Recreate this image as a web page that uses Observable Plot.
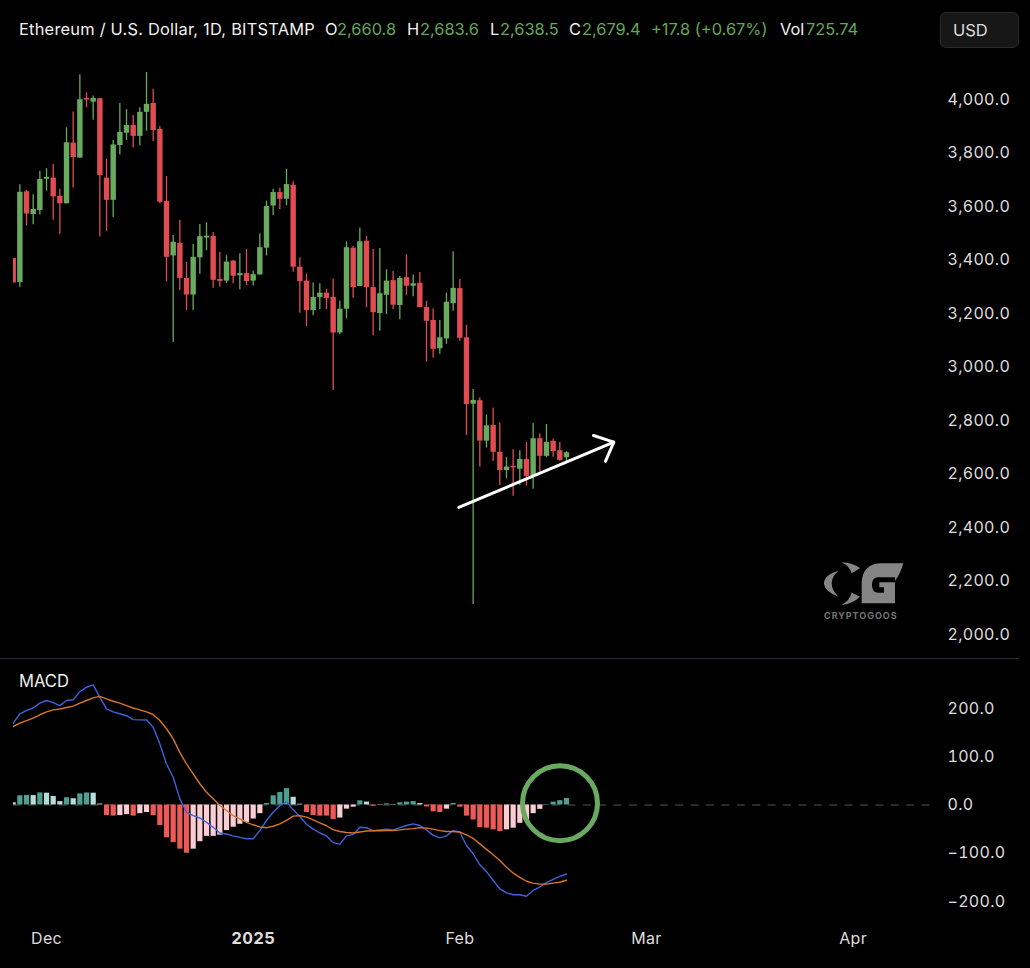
<!DOCTYPE html>
<html><head><meta charset="utf-8">
<script src="https://cdn.jsdelivr.net/npm/d3@7"></script>
<script src="https://cdn.jsdelivr.net/npm/@observablehq/plot@0.6"></script>
<style>
html,body{margin:0;padding:0;background:#000;width:1030px;height:968px;overflow:hidden}
#wrap{position:relative;width:1030px;height:968px;background:#000;font-family:Inter,"Liberation Sans",sans-serif}
#wrap>div,#wrap>svg{position:absolute}
.seg{top:19px;font-size:16.4px;line-height:20px;white-space:nowrap}
#usd{left:940px;top:12px;width:79px;height:36px;background:#171717;border:1px solid #2b2b2b;border-radius:6px;box-sizing:border-box;color:#dcdcdc;font-size:16.5px;line-height:35px;padding-left:12px}
#macdLabel{left:19px;top:671px;color:#f0f0f0;font-size:16.6px;line-height:20px}
#divider{left:0;top:658px;width:1018px;height:1px;background:#2a2d38}
</style></head><body>
<div id="wrap"></div>
<script>
const startDay = Date.UTC(2024, 10, 26);
const opens  = [3406,3316,3655,3570,3585,3702,3706,3638,3610,3837,3781,4004,3990,4003,3706,3623,3828,3874,3903,3862,3952,3985,3888,3619,3415,3462,3331,3269,3408,3482,3488,3327,3321,3396,3341,3349,3321,3344,3444,3602,3652,3627,3679,3373,3321,3211,3260,3276,3260,3127,3216,3444,3301,3470,3297,3200,3268,3323,3230,3334,3302,3313,3222,3174,3068,3105,3237,3293,3109,2861,2874,2723,2781,2681,2613,2629,2618,2654,2591,2732,2666,2722,2687,2660.8];
const highs  = [3406,3681,3660,3644,3732,3741,3757,3664,3894,3953,4092,4025,4013,4003,3777,3847,3985,3962,3940,3969,4101,4038,3899,3712,3492,3548,3391,3458,3533,3539,3503,3428,3416,3398,3423,3439,3358,3497,3620,3664,3668,3738,3692,3408,3348,3314,3311,3291,3328,3247,3468,3450,3520,3488,3439,3443,3363,3357,3338,3420,3344,3353,3245,3218,3174,3276,3431,3327,3155,2916,2885,2821,2847,2791,2661,2691,2687,2718,2789,2750,2785,2730,2718,2683.6];
const lows   = [3314,3297,3527,3532,3568,3658,3549,3496,3610,3669,3781,3969,3922,3486,3507,3559,3792,3847,3820,3827,3881,3843,3610,3319,3092,3286,3211,3211,3347,3435,3294,3299,3312,3311,3289,3304,3303,3344,3415,3566,3588,3603,3354,3201,3151,3192,3215,3215,2912,3121,3180,3257,3301,3222,3117,3134,3196,3215,3177,3268,3263,3222,3018,3033,3048,3085,3208,3096,2744,2112,2626,2697,2647,2557,2582,2517,2557,2555,2543,2607,2661,2663,2648,2638.5];
const closes = [3314,3653,3572,3589,3701,3709,3636,3610,3838,3783,3999,3998,4004,3715,3623,3830,3877,3903,3862,3952,3982,3884,3616,3410,3466,3331,3269,3410,3487,3489,3324,3320,3392,3339,3349,3319,3345,3446,3600,3652,3627,3682,3373,3319,3211,3260,3276,3256,3127,3216,3446,3297,3468,3297,3203,3274,3321,3231,3331,3302,3311,3222,3171,3066,3109,3242,3294,3107,2860,2875,2723,2780,2681,2613,2626,2623,2654,2591,2732,2666,2718,2684,2651,2679.4];

const histogram = [4.5,19,19.7,19.5,25,24.5,17.6,7,15,13,23,25,24.5,2,-22,-23,-22,-20,-23,-18,-15.5,-22,-42.5,-68,-78,-91.5,-100,-91.5,-76,-65,-65,-62.5,-53,-46,-40,-36,-29,-18,3,19,26,34,16,1.7,-15.5,-22,-23,-23,-30,-27,-8.6,-4.5,8.6,6,-2.4,1,2.4,1,4.5,6,7,3,-4,-14,-15.5,-8.6,3,-4.5,-23,-31,-47,-48,-51.5,-55,-51.5,-48,-38,-32,-18,-9,1,6,9,13.5];
const histTone  = "L T T L T L L L T L T T L L R R P P R P P R R R R R R P P P P P P P P P P P T T T T L L R R R R R P P P T L R L T L T T T L R R R P T R R R R R R R P P P P P P T T T T".split(" ");
const macdLine  = [169.5,189,196,201,211,216.5,212,206,216.5,218,235,244,249,223,199,193,189,185,177,176.4,176,161,126.7,85,57.6,12.7,-15,-22,-27,-36,-46,-58,-60,-64,-67,-70,-70,-53,-32,-15,-1,7,-10,-24,-40,-50,-58,-64,-78,-81,-64,-61,-46,-47,-53.5,-51.5,-50,-51.5,-47,-42.5,-39,-42.5,-51.5,-63,-68,-64,-53,-56,-84,-101,-124,-138,-156,-174,-182,-186,-186,-189,-177,-170,-161,-154,-148,-143];
const signalLine= [162.6,169.5,175,180,187,193,197,199,202,205,211,216.5,222,225,220,215,211,206,201,197,193,187.5,175,158,137,109,85,64.5,44,26.5,12.7,-1,-11.5,-22,-29,-36,-41,-45.5,-47,-44,-39,-32,-23,-22,-25,-31,-37,-43,-51,-55,-57,-58,-56,-54,-53.5,-53.5,-53,-53,-51.5,-50,-49,-47,-48,-50,-53,-55,-55,-56,-62,-69,-80.5,-92,-103,-115,-129,-141,-150,-158,-162,-164,-164,-162,-160,-156];

const priceTicks = [2000,2200,2400,2600,2800,3000,3200,3400,3600,3800,4000];
const macdTicks  = [-200,-100,0,100,200];
const monthTicks = [["Dec",Date.UTC(2024,11,1)],["Mar",Date.UTC(2025,2,1)],["Apr",Date.UTC(2025,3,1)],["Feb",Date.UTC(2025,1,1)]];
const yearTick   = Date.UTC(2025,0,1);

const arrowShaftDays = [66.85,90.1],  arrowShaftPrices = [2475,2719];
const arrowHeadDays  = [87.05,90.1,88.85], arrowHeadPrices = [2744,2719,2647];
const circleDay = 82.03, circleValue = 3.7;

const headerParts = [
  ["Ethereum / U.S. Dollar, 1D, BITSTAMP",19,"w"],["O",325,"w"],["2,660.8",337,"g"],["H",407,"w"],["2,683.6",420,"g"],
  ["L",490,"w"],["2,638.5",500,"g"],["C",569,"w"],["2,679.4",582,"g"],["+17.8 (+0.67%)",651,"g"],["Vol",780,"w"],["725.74",806,"g"]
];

const GREEN="#69ab5e", RED="#e04c52", TEXT="#dedede";
const dayDate = k => new Date(startDay + k*864e5);
const candles = opens.map((o,i)=>({d:dayDate(i),o,h:highs[i],l:lows[i],c:closes[i],dir:closes[i]>=o?"up":"down"}));
const hist = histogram.map((v,i)=>({d:dayDate(i),v,t:histTone[i]}));
const macdRows = macdLine.map((v,i)=>({d:dayDate(i),v}));
const sigRows  = signalLine.map((v,i)=>({d:dayDate(i),v}));
const xDomain = [dayDate(0.045), dayDate(138.36)];
const numFmt = d3.format(",.1f");
const style = {background:"#000",color:TEXT,fontFamily:"Inter,sans-serif",fontSize:"16px",letterSpacing:"0.3px"};

const pricePlot = Plot.plot({
  width:1030,height:658,marginLeft:13,marginRight:95,marginTop:0,marginBottom:0,style,
  x:{type:"utc",domain:xDomain,axis:null},
  y:{domain:[1910.3,4370],axis:null},
  color:{domain:["up","down"],range:[GREEN,RED]},
  marks:[
    Plot.axisY({ticks:priceTicks,anchor:"right",tickSize:0,tickPadding:12,tickFormat:numFmt,label:null,fontSize:16}),
    Plot.ruleX(candles,{x:"d",y1:"l",y2:"h",stroke:"dir",strokeWidth:1.3,clip:true}),
    Plot.ruleX(candles,{x:"d",y1:"o",y2:"c",stroke:"dir",strokeWidth:5.4,clip:true}),
    Plot.line(arrowShaftDays.map((k,i)=>({d:dayDate(k),p:arrowShaftPrices[i]})),{x:"d",y:"p",stroke:"#fff",strokeWidth:3}),
    Plot.line(arrowHeadDays.map((k,i)=>({d:dayDate(k),p:arrowHeadPrices[i]})),{x:"d",y:"p",stroke:"#fff",strokeWidth:3,strokeLinejoin:"miter"})
  ]
});

const macdPlot = Plot.plot({
  width:1030,height:309,marginLeft:13,marginRight:95,marginTop:0,marginBottom:43,style,
  x:{type:"utc",domain:xDomain,axis:null},
  y:{domain:[-249.7,301.5],axis:null},
  color:{domain:["T","L","R","P"],range:["#4f9f92","#b6dcd8","#ec5a56","#fbcdd2"]},
  marks:[
    Plot.axisY({ticks:macdTicks,anchor:"right",tickSize:0,tickPadding:12,tickFormat:numFmt,label:null,fontSize:16}),
    Plot.axisX({ticks:monthTicks.map(m=>new Date(m[1])),tickFormat:d=>monthTicks.find(m=>m[1]===+d)[0],anchor:"bottom",tickSize:0,tickPadding:7,label:null,fontSize:16}),
    Plot.axisX({ticks:[new Date(yearTick)],tickFormat:()=>"2025",anchor:"bottom",tickSize:0,tickPadding:7,label:null,fontSize:16.5,fontWeight:"bold"}),
    Plot.ruleY([0],{stroke:"#555",strokeDasharray:"8 7.4",strokeWidth:1}),
    Plot.ruleX(hist,{x:"d",y1:0,y2:"v",stroke:"t",strokeWidth:5.2,clip:true}),
    Plot.line(macdRows,{x:"d",y:"v",stroke:"#3f63dc",strokeWidth:1.4,clip:true}),
    Plot.line(sigRows,{x:"d",y:"v",stroke:"#d8752d",strokeWidth:1.4,clip:true}),
    Plot.dot([{d:dayDate(circleDay),v:circleValue}],{x:"d",y:"v",r:37.5,stroke:"#6aaa60",strokeWidth:5,fill:"none"})
  ]
});

const wrap = document.getElementById("wrap");
pricePlot.style.cssText += ";position:absolute;left:0;top:0;max-width:none";
macdPlot.style.cssText  += ";position:absolute;left:0;top:659px;max-width:none";
wrap.append(pricePlot, macdPlot);

for (const [text,left,kind] of headerParts) {
  const s = document.createElement("div");
  s.className = "seg"; s.textContent = text; s.style.left = left+"px";
  s.style.color = kind==="g" ? "#62a85b" : "#f0f0f0";
  if (left===19) s.style.letterSpacing = "0.23px";
  wrap.append(s);
}
wrap.insertAdjacentHTML("beforeend", `
<div id="usd">USD</div>
<div id="macdLabel">MACD</div>
<div id="divider"></div>
<svg style="left:800px;top:550px" width="230" height="120" viewBox="0 0 690 360">
  <g fill="#858585">
    <path d="M310 40 L240 40 Q190 42 185 95 L185 160 L285 160 L285 92 Q300 75 310 40Z"/>
    <path d="M115 62 Q70 75 72 102 Q75 125 115 140 Q95 120 95 100 Q95 80 115 62Z"/>
    <path d="M125 37 Q160 38 180 55 L155 70 Q150 50 125 37Z"/>
    <path d="M125 165 Q160 160 180 140 L155 128 Q150 150 125 165Z"/>
  </g>
  <path fill="#000" d="M285 82 L232 82 Q216 84 216 105 Q216 128 235 128 L252 128 L252 112 L238 112 L238 97 L285 97Z"/>
  <text x="72" y="206" fill="#757575" font-family="Inter,sans-serif" font-weight="700" font-size="27" textLength="218">CRYPTOGOOS</text>
</svg>`);
</script>
</body></html>
